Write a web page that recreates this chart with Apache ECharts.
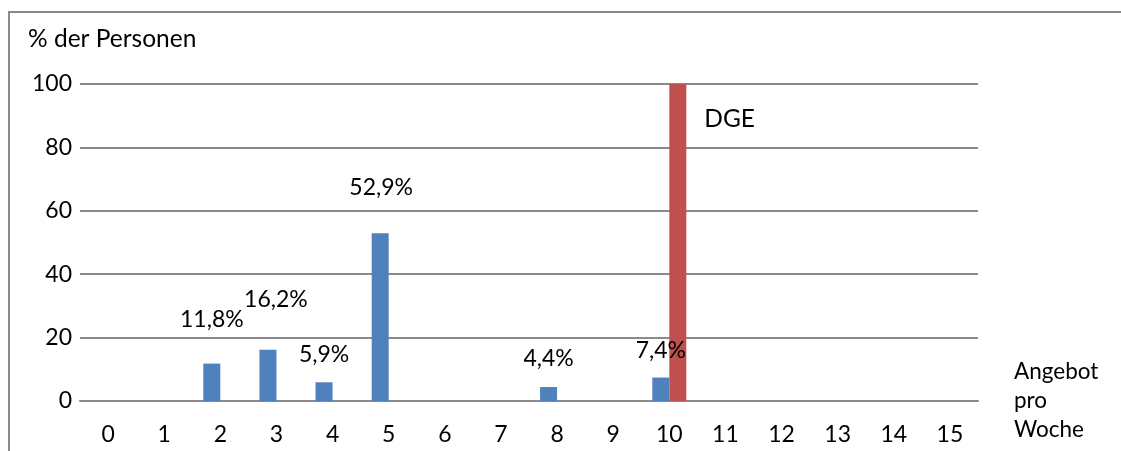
<!DOCTYPE html>
<html>
<head>
<meta charset="utf-8">
<script src="https://cdn.jsdelivr.net/npm/echarts@6/dist/echarts.min.js"></script>
<style>
  html, body { margin: 0; padding: 0; background: #fff; }
  #chart { width: 1121px; height: 451px; }
</style>
</head>
<body>
<div id="chart"></div>
<script>
// Angebot pro Woche (x) gegen % der Personen (y)
var kategorien = ['0', '1', '2', '3', '4', '5', '6', '7', '8', '9', '10', '11', '12', '13', '14', '15'];
var personen = [null, null, 11.8, 16.2, 5.9, 52.9, null, null, 4.4, null, 7.4, null, null, null, null, null];
var dge = [null, null, null, null, null, null, null, null, null, null, 100, null, null, null, null, null];
var dgeText = 'DGE';

// Verschiebung der Beschriftungen (wie im Original von Hand platziert)
var labelShift = {2: [0, -28], 3: [8, -34], 4: [0, -11], 5: [1, -29], 8: [0, -12], 10: [0, -10]};

var schrift = 'Lato';

var blauDaten = personen.map(function (v, i) {
    if (v == null) return null;
    return {
        value: v,
        label: { show: true, offset: labelShift[i] || [0, 0] }
    };
});

var myChart = echarts.init(document.getElementById('chart'));
var option = {
    animation: false,
    textStyle: { fontFamily: schrift },
    title: {
        text: '% der Personen',
        left: 28,
        top: 27,
        padding: 0,
        textStyle: { fontFamily: schrift, fontSize: 24.5, fontWeight: 'normal', color: '#000' }
    },
    graphic: [{
        type: 'rect',
        shape: { x: 9, y: 12, width: 1200, height: 600 },
        style: { fill: 'none', stroke: '#8a8a8a', lineWidth: 2 },
        silent: true
    }],
    grid: {
        left: 80,
        right: 143,
        top: 84,
        bottom: 50
    },
    xAxis: {
        type: 'category',
        data: kategorien,
        name: 'Angebot\npro\nWoche',
        nameLocation: 'end',
        nameGap: 36,
        nameTextStyle: {
            fontFamily: schrift, fontSize: 22.5, color: '#000',
            align: 'left', verticalAlign: 'middle', lineHeight: 29,
            padding: [0, 0, 6, 0]
        },
        axisLine: { lineStyle: { color: '#8a8a8a', width: 2 } },
        axisTick: { show: false },
        axisLabel: { fontFamily: schrift, fontSize: 23, color: '#000', margin: 22, interval: 0 }
    },
    yAxis: {
        type: 'value',
        min: 0,
        max: 100,
        interval: 20,
        axisLine: { show: false },
        axisTick: { show: false },
        axisLabel: { fontFamily: schrift, fontSize: 23, color: '#000', margin: 8 },
        splitLine: { lineStyle: { color: '#8a8a8a', width: 2 } }
    },
    series: [{
        type: 'bar',
        name: 'Personen',
        data: blauDaten,
        barWidth: 17,
        barGap: 0,
        itemStyle: { color: '#4F81BD' },
        label: {
            position: 'top',
            distance: 5,
            fontFamily: schrift,
            fontSize: 23,
            color: '#000',
            formatter: function (p) {
                return String(p.value).replace('.', ',') + '%';
            }
        }
    }, {
        type: 'bar',
        name: 'DGE',
        data: dge,
        barWidth: 17,
        barGap: 0,
        itemStyle: { color: '#C0504D' },
        label: {
            show: true,
            position: [35, 35],
            align: 'left',
            verticalAlign: 'middle',
            fontFamily: schrift,
            fontSize: 24.5,
            color: '#000',
            formatter: function () { return dgeText; }
        }
    }]
};
myChart.setOption(option);
</script>
</body>
</html>
